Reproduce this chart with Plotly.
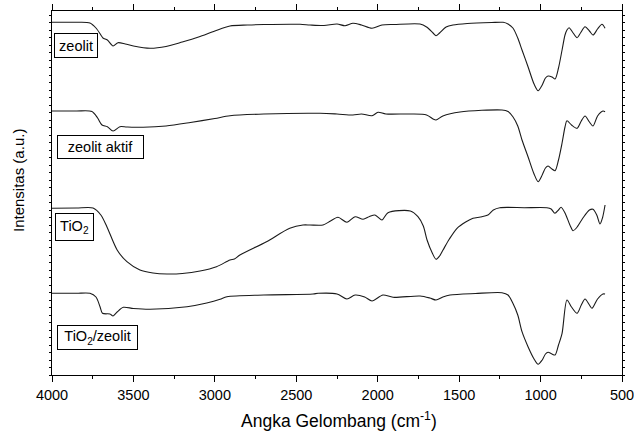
import plotly.graph_objects as go

# ---- data (wavenumber cm^-1, intensity a.u., offset as in figure) ----
zeolit_x = [4000, 3850, 3767, 3730, 3700, 3687, 3660, 3625, 3595, 3550, 3500, 3398, 3300, 3200, 3100, 3000,
            2907, 2800, 2700, 2477, 2416, 2330, 2250, 2201, 2152, 2100, 2035, 1974, 1900, 1740, 1700, 1660,
            1642, 1620, 1580, 1538, 1450, 1300, 1230, 1200, 1170, 1140, 1114, 1077, 1040, 1015, 990, 970,
            954, 930, 911, 890, 868, 850, 838, 825, 800, 776, 755, 727, 700, 678, 650, 623, 604]
zeolit_y = [352.7, 352.7, 352, 347, 340, 337, 335, 329, 332.3, 331, 329, 326.7, 328.5, 333, 338, 344,
            349, 350, 350.5, 350.7, 350, 349.5, 351, 349.3, 351.7, 350, 346.7, 350, 350.5, 351, 348, 342,
            339.3, 342, 348, 350, 351.5, 352.5, 352.7, 351, 347, 337, 325, 308.3, 291, 284.3, 290, 297,
            299, 298, 296, 307, 325, 340, 345, 347.3, 342, 337.3, 342, 348.3, 344, 340, 346, 350.7, 346.7]

aktif_x = [4000, 3850, 3755, 3720, 3693, 3660, 3625, 3583, 3540, 3440, 3300, 3150, 3000, 2907, 2700, 2354,
           2250, 2152, 2100, 2035, 1998, 1950, 1800, 1700, 1660, 1642, 1600, 1495, 1237, 1200, 1170, 1140,
           1114, 1077, 1040, 1015, 990, 970, 954, 930, 911, 890, 868, 850, 838, 810, 776, 750, 727, 700,
           678, 650, 617, 604]
aktif_y = [264, 264, 263.5, 257, 250, 248.3, 244, 248.3, 248, 247.7, 249, 252.5, 256.5, 259.3, 261, 261.7,
           261, 260, 261, 259.3, 262.7, 261, 261, 260, 256, 255, 259, 263, 265, 263.5, 258.3, 249,
           235, 218.3, 201, 193.3, 200, 207, 209, 206, 204.3, 215, 232, 248, 254.3, 250, 246.7, 254, 259, 253,
           249, 259, 264, 263.3]

tio2_x = [4000, 3850, 3748, 3700, 3663, 3600, 3540, 3460, 3380, 3294, 3200, 3091, 2990, 2907, 2880, 2846,
          2683, 2540, 2459, 2416, 2336, 2290, 2244, 2189, 2139, 2090, 2050, 2017, 1974, 1937, 1800, 1753,
          1720, 1697, 1665, 1642, 1620, 1599, 1560, 1513, 1460, 1415, 1370, 1323, 1290, 1250, 1100, 961,
          935, 912, 890, 874, 850, 820, 801, 780, 740, 700, 678, 655, 635, 620, 604]
tio2_y = [166.7, 167, 167, 160, 148.3, 125, 113.3, 105, 102, 101, 101.5, 104, 108.3, 115, 116, 120,
          133.3, 146.7, 150, 150, 150, 154, 157.7, 152.7, 158.3, 155.7, 158.5, 160, 155, 162.3, 164, 158.3,
          149, 135, 122, 115.7, 119, 125, 136, 146.7, 153, 156.7, 158, 160, 165, 167.3, 167.3, 167.3,
          166, 161.7, 165, 167.7, 162, 150, 144.3, 147, 157, 165, 165.7, 160, 151, 157, 170]

tz_x = [4000, 3850, 3767, 3730, 3705, 3690, 3644, 3625, 3600, 3562, 3500, 3398, 3171, 3050, 2968, 2926,
        2700, 2397, 2366, 2250, 2189, 2139, 2080, 2035, 1968, 1906, 1740, 1680, 1642, 1600, 1556, 1400,
        1237, 1200, 1170, 1140, 1114, 1077, 1040, 1015, 990, 970, 954, 930, 911, 890, 868, 838, 810, 776,
        750, 727, 700, 684, 650, 617, 604]
tz_y = [81.7, 81.7, 81.7, 78, 68.3, 61.7, 61, 59, 63, 67.7, 66.5, 65.7, 68.3, 72, 75.7, 78.3,
        80, 81, 81.7, 81, 76, 80, 78, 74, 80, 77.7, 79, 77, 75, 78, 80, 81.5,
        82.3, 80, 71.7, 60, 43.3, 28.3, 16, 10.7, 15, 21, 22.7, 21, 20, 30, 41.7, 75, 68, 61.7,
        70, 76, 70, 66.7, 76, 81, 81]

labels = ["zeolit", "zeolit aktif", "TiO<sub>2</sub>", "TiO<sub>2</sub>/zeolit"]
x_ticks = [4000, 3500, 3000, 2500, 2000, 1500, 1000, 500]

fig = go.Figure()
for xs, ys in [(zeolit_x, zeolit_y), (aktif_x, aktif_y), (tio2_x, tio2_y), (tz_x, tz_y)]:
    fig.add_trace(go.Scatter(x=xs, y=ys, mode="lines",
                             line=dict(color="#1a1a1a", width=1.1, shape="spline", smoothing=0.8),
                             showlegend=False, hoverinfo="skip"))

L, R, T, B = 52, 12, 11, 59
W, H = 634, 434
pw, ph = W - L - R, H - T - B

def px(xp):
    return (xp - L) / pw

def py(yp):
    return (H - B - yp) / ph

FONT = "Liberation Sans, Arial"
# label boxes: (center x px, center y px, inner width, inner height)
boxes = [(76, 45, 36, 17), (100.5, 146.5, 79, 16), (74, 226.5, 31, 20), (97, 337, 73, 17)]
for text, (cx, cy, bw, bh) in zip(labels, boxes):
    fig.add_annotation(x=px(cx), y=py(cy), xref="paper", yref="paper", text=text,
                       xanchor="center", yanchor="middle",
                       showarrow=False, font=dict(family=FONT, size=14.5, color="#000"),
                       bordercolor="#000", borderwidth=1, borderpad=3, bgcolor="white",
                       width=bw, height=bh, align="center", valign="middle")

fig.add_annotation(x=px(18), y=py(181), xref="paper", yref="paper", text="Intensitas (a.u.)",
                   showarrow=False, textangle=-90, xanchor="center", yanchor="middle",
                   font=dict(family=FONT, size=15, color="#000"))
fig.add_annotation(x=px(339), y=py(420), xref="paper", yref="paper",
                   text="Angka Gelombang (cm<sup>-1</sup>)", showarrow=False,
                   xanchor="center", yanchor="middle",
                   font=dict(family=FONT, size=17.5, color="#000"))

fig.update_layout(
    width=W, height=H, margin=dict(l=L, r=R, t=T, b=B, autoexpand=False),
    paper_bgcolor="white", plot_bgcolor="white",
    font=dict(family=FONT, color="#000"),
    xaxis=dict(range=[4000, 500], tickvals=x_ticks, ticks="outside", ticklen=6, tickwidth=1,
               tickcolor="#000", showline=True, linecolor="#000", linewidth=1.2, mirror="ticks",
               showgrid=False, zeroline=False, tickfont=dict(size=14.5), automargin=False,
               ticklabeloverflow="allow",
               minor=dict(dtick=250, tick0=0, ticks="outside", ticklen=3, tickcolor="#000", showgrid=False)),
    yaxis=dict(range=[0, 364], showticklabels=False, ticks="outside", ticklen=2, dtick=7.5,
               tickcolor="#000", showline=True, linecolor="#000", linewidth=1.2, mirror="ticks",
               showgrid=False, zeroline=False, automargin=False),
)

fig.write_html("out.html")
